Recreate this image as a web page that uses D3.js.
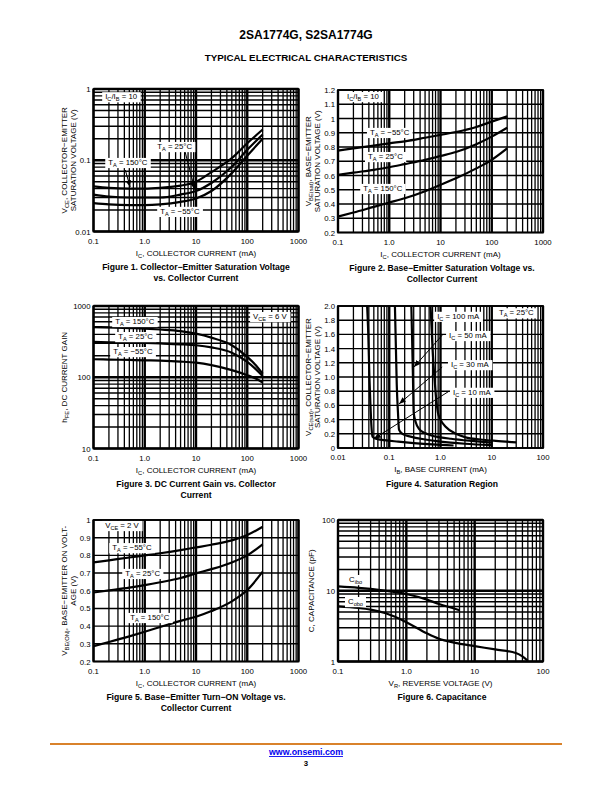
<!DOCTYPE html>
<html>
<head>
<meta charset="utf-8">
<script src="https://cdn.jsdelivr.net/npm/d3@7"></script>
<style>
  body { margin: 0; background: #fff; }
  svg { display: block; font-family: "Liberation Sans", Arial, Helvetica, sans-serif; }
</style>
</head>
<body>
<svg id="page" width="612" height="792"></svg>
<script>
// Figure 1 - Vce(sat) vs Ic
var fig1Current = [0.1, 0.2, 0.5, 1, 2, 5, 10, 20, 50, 100, 200];
var fig1Vce150 = [0.043, 0.041, 0.040, 0.040, 0.041, 0.044, 0.050, 0.068, 0.107, 0.173, 0.27];
var fig1Vce25 = [0.033, 0.031, 0.030, 0.030, 0.030, 0.033, 0.037, 0.048, 0.081, 0.14, 0.23];
var fig1VceM55 = [0.025, 0.024, 0.0235, 0.0235, 0.024, 0.026, 0.029, 0.037, 0.066, 0.116, 0.20];

// Figure 2 - Vbe(sat) vs Ic
var fig2Current = [0.1, 0.2, 0.5, 1, 2, 5, 10, 20, 50, 100, 200];
var fig2VbeM55 = [0.775, 0.79, 0.81, 0.826, 0.84, 0.865, 0.885, 0.905, 0.94, 0.978, 1.015];
var fig2Vbe25 = [0.604, 0.62, 0.64, 0.658, 0.68, 0.71, 0.737, 0.765, 0.82, 0.873, 0.935];
var fig2Vbe150 = [0.312, 0.34, 0.38, 0.41, 0.44, 0.49, 0.534, 0.58, 0.65, 0.71, 0.79];

// Figure 3 - hFE vs Ic
var fig3Current = [0.1, 0.2, 0.5, 1, 2, 5, 10, 20, 50, 100, 150, 200];
var fig3Hfe150 = [507, 500, 490, 481, 468, 445, 409, 360, 281, 193, 145, 112];
var fig3Hfe25 = [313, 310, 306, 303, 298, 290, 281, 262, 221, 164, 128, 104];
var fig3HfeM55 = [179, 177, 175, 173, 171, 166, 160, 148, 126, 107, 95, 84];

// Figure 4 - saturation region, Ib (mA) vs Vce (V)
var fig4Ib10 = [0.037, 0.039, 0.041, 0.043, 0.045, 0.047, 0.055, 0.08, 0.15, 0.3, 0.7, 1.8];
var fig4Vce10 = [2.0, 1.6, 1.0, 0.6, 0.3, 0.16, 0.13, 0.11, 0.09, 0.07, 0.05, 0.035];
var fig4Ib30 = [0.129, 0.135, 0.14, 0.148, 0.155, 0.18, 0.26, 0.5, 1.0, 3, 10];
var fig4Vce30 = [2.0, 1.4, 0.9, 0.5, 0.26, 0.2, 0.16, 0.12, 0.09, 0.06, 0.04];
var fig4Ib50 = [0.27, 0.28, 0.29, 0.30, 0.33, 0.38, 0.5, 0.64, 1.0, 1.6, 4, 10];
var fig4Vce50 = [2.0, 1.5, 1.0, 0.5, 0.36, 0.27, 0.21, 0.18, 0.15, 0.13, 0.1, 0.075];
var fig4Ib100 = [0.64, 0.7, 0.76, 0.89, 1.0, 1.26, 2.0, 3.1, 6, 12, 30];
var fig4Vce100 = [2.0, 1.4, 1.0, 0.5, 0.4, 0.3, 0.2, 0.15, 0.12, 0.1, 0.08];

// Figure 5 - Vbe(on) vs Ic
var fig5Current = [0.1, 0.2, 0.5, 1, 2, 5, 10, 20, 50, 100, 200];
var fig5VbeM55 = [0.76, 0.772, 0.788, 0.80, 0.812, 0.83, 0.845, 0.86, 0.885, 0.915, 0.962];
var fig5Vbe25 = [0.59, 0.602, 0.618, 0.632, 0.648, 0.672, 0.698, 0.722, 0.76, 0.80, 0.862];
var fig5Vbe150 = [0.287, 0.31, 0.342, 0.368, 0.395, 0.43, 0.453, 0.485, 0.54, 0.604, 0.708];

// Figure 6 - capacitance
var fig6CiboV = [0.1, 0.2, 0.3, 0.5, 1, 2, 3, 5, 6];
var fig6Cibo = [11.5, 11.0, 10.6, 10.0, 9.0, 7.5, 6.5, 5.6, 5.3];
var fig6CoboV = [0.1, 0.2, 0.3, 0.5, 1, 2, 3, 5, 10, 20, 40, 50, 60];
var fig6Cobo = [6.0, 5.7, 5.4, 4.8, 3.6, 2.5, 2.1, 1.85, 1.65, 1.48, 1.32, 1.18, 1.02];

// tick labels
var decadeTicks = [0.1, 1, 10, 100, 1000];
var decadeLabels = ['0.1', '1.0', '10', '100', '1000'];
var ibTicks = [0.01, 0.1, 1, 10, 100];
var ibLabels = ['0.01', '0.1', '1.0', '10', '100'];
var vrTicks = [0.1, 1, 10, 100];
var vrLabels = ['0.1', '1.0', '10', '100'];
var fig1YTicks = [0.01, 0.1, 1];
var fig1YLabels = ['0.01', '0.1', '1'];
var fig2YTicks = [0.2, 0.3, 0.4, 0.5, 0.6, 0.7, 0.8, 0.9, 1, 1.1, 1.2];
var fig2YLabels = ['0.2', '0.3', '0.4', '0.5', '0.6', '0.7', '0.8', '0.9', '1', '1.1', '1.2'];
var fig3YTicks = [10, 100, 1000];
var fig3YLabels = ['10', '100', '1000'];
var fig4YTicks = [0, 0.2, 0.4, 0.6, 0.8, 1.0, 1.2, 1.4, 1.6, 1.8, 2.0];
var fig4YLabels = ['0', '0.2', '0.4', '0.6', '0.8', '1.0', '1.2', '1.4', '1.6', '1.8', '2.0'];
var fig5YTicks = [0.2, 0.3, 0.4, 0.5, 0.6, 0.7, 0.8, 0.9, 1];
var fig5YLabels = ['0.2', '0.3', '0.4', '0.5', '0.6', '0.7', '0.8', '0.9', '1'];
var fig6YTicks = [1, 10, 100];
var fig6YLabels = ['1', '10', '100'];

var page = d3.select('#page');

page.append('defs').append('marker')
    .attr('id', 'arr').attr('viewBox', '0 0 10 10')
    .attr('refX', 10).attr('refY', 5)
    .attr('markerWidth', 7).attr('markerHeight', 7)
    .attr('orient', 'auto')
    .append('path').attr('d', 'M0,1 L10,5 L0,9 z').attr('fill', '#000');

// writes "X_{sub}" strings as tspans
function rich(t, str, size) {
    var re = /_\{([^}]*)\}/g, last = 0, m, shift = size * 0.28, down = false;
    function plain(s) {
        if (!s) return;
        var ts = t.append('tspan').text(s);
        if (down) { ts.attr('dy', -shift); down = false; }
    }
    while ((m = re.exec(str))) {
        plain(str.slice(last, m.index));
        t.append('tspan').attr('font-size', size * 0.72).attr('dy', down ? 0 : shift).text(m[1]);
        down = true;
        last = re.lastIndex;
    }
    plain(str.slice(last));
}

function txt(x, y, str, size, opts) {
    opts = opts || {};
    var t = page.append('text').attr('x', x).attr('y', y)
        .attr('font-size', size)
        .attr('text-anchor', opts.anchor || 'middle')
        .attr('font-weight', opts.bold ? 'bold' : null)
        .attr('fill', opts.fill || '#000');
    if (opts.rotate) t.attr('transform', 'rotate(-90,' + x + ',' + y + ')');
    rich(t, str, size);
    return t;
}

function isDecade(v) {
    var l = Math.log10(v);
    return Math.abs(l - Math.round(l)) < 1e-6;
}

function drawChart(c) {
    var g = page.append('g');
    var x = (c.xLog ? d3.scaleLog() : d3.scaleLinear()).domain(c.xDomain).range([c.left, c.right]);
    var y = (c.yLog ? d3.scaleLog() : d3.scaleLinear()).domain(c.yDomain).range([c.bottom, c.top]);

    var xg = c.xLog ? x.ticks() : x.ticks(c.xCount);
    var yg = c.yLog ? y.ticks() : y.ticks(c.yCount);

    g.selectAll('line.vx').data(xg).join('line')
        .attr('x1', function(d){return x(d);}).attr('x2', function(d){return x(d);})
        .attr('y1', c.top).attr('y2', c.bottom)
        .attr('stroke', '#000')
        .attr('stroke-width', function(d){return c.xLog && isDecade(d) ? 2.4 : 1.3;});
    g.selectAll('line.hy').data(yg).join('line')
        .attr('y1', function(d){return y(d);}).attr('y2', function(d){return y(d);})
        .attr('x1', c.left).attr('x2', c.right)
        .attr('stroke', '#000')
        .attr('stroke-width', function(d){return c.yLog && isDecade(d) ? 2.4 : 1.4;});
    g.append('rect').attr('x', c.left).attr('y', c.top)
        .attr('width', c.right - c.left).attr('height', c.bottom - c.top)
        .attr('fill', 'none').attr('stroke', '#000').attr('stroke-width', 1.8);

    c.xTicks.forEach(function(v, i) {
        txt(x(v), c.bottom + 12, c.xTickText[i], 7.8);
    });
    c.yTicks.forEach(function(v, i) {
        txt(c.left - 3, y(v) + 3, c.yTickText[i], 7.8, {anchor: 'end'});
    });

    var line = d3.line()
        .x(function(d){return x(d[0]);})
        .y(function(d){return y(d[1]);})
        .curve(d3.curveMonotoneX);
    c.series.forEach(function(s) {
        g.append('path').attr('d', line(d3.zip(s[0], s[1])))
            .attr('fill', 'none').attr('stroke', '#000')
            .attr('stroke-width', 2.2).attr('stroke-linejoin', 'round');
    });

    (c.labels || []).forEach(function(l) {
        var t = g.append('text').attr('x', x(l[0])).attr('y', y(l[1])).attr('font-size', 7.8);
        rich(t, l[2], 7.8);
        var b = t.node().getBBox();
        g.insert('rect', function(){ return t.node(); })
            .attr('x', b.x - 3).attr('y', b.y)
            .attr('width', b.width + 6).attr('height', b.height)
            .attr('fill', '#fff');
    });

    (c.arrows || []).forEach(function(a) {
        g.append('line')
            .attr('x1', x(a[0])).attr('y1', y(a[1]))
            .attr('x2', x(a[2])).attr('y2', y(a[3]))
            .attr('stroke', '#000').attr('stroke-width', 1)
            .attr('marker-end', 'url(#arr)');
    });

    var cx = (c.left + c.right) / 2, cy = (c.top + c.bottom) / 2;
    c.yTitle.forEach(function(s, i) {
        txt(c.yTitleX[i], cy, s, 8, {rotate: true});
    });
    txt(cx, c.bottom + 24, c.xTitle, 8);
    c.caption.forEach(function(s, i) {
        txt(c.capX, c.bottom + 38.5 + i * 11, s, 8.6, {bold: true});
    });
}

// header
txt(306, 39, '2SA1774G, S2SA1774G', 12, {bold: true});
txt(306, 61, 'TYPICAL ELECTRICAL CHARACTERISTICS', 9.8, {bold: true});

drawChart({
    left: 93.5, right: 298.5, top: 89, bottom: 231.5,
    xLog: true, yLog: true, xDomain: [0.1, 1000], yDomain: [0.01, 1],
    xTicks: decadeTicks, xTickText: decadeLabels,
    yTicks: fig1YTicks, yTickText: fig1YLabels,
    series: [[fig1Current, fig1Vce150], [fig1Current, fig1Vce25], [fig1Current, fig1VceM55]],
    labels: [
        [0.169, 0.72, 'I_{C}/I_{B} = 10'],
        [1.75, 0.144, 'T_{A} = 25°C'],
        [0.194, 0.086, 'T_{A} = 150°C'],
        [2.0, 0.0177, 'T_{A} = −55°C']
    ],
    arrows: [[6.15, 0.13, 9.6, 0.038], [0.417, 0.073, 0.52, 0.042]],
    yTitle: ['V_{CE}, COLLECTOR−EMITTER', 'SATURATION VOLTAGE (V)'], yTitleX: [67, 76],
    xTitle: 'I_{C}, COLLECTOR CURRENT (mA)',
    caption: ['Figure 1. Collector−Emitter Saturation Voltage', 'vs. Collector Current'], capX: 196
});

drawChart({
    left: 338, right: 543, top: 90, bottom: 232.5,
    xLog: true, yLog: false, xDomain: [0.1, 1000], yDomain: [0.2, 1.2], yCount: 10,
    xTicks: decadeTicks, xTickText: decadeLabels,
    yTicks: fig2YTicks, yTickText: fig2YLabels,
    series: [[fig2Current, fig2VbeM55], [fig2Current, fig2Vbe25], [fig2Current, fig2Vbe150]],
    labels: [
        [0.15, 1.137, 'I_{C}/I_{B} = 10'],
        [0.42, 0.885, 'T_{A} = −55°C'],
        [0.385, 0.716, 'T_{A} = 25°C'],
        [0.31, 0.492, 'T_{A} = 150°C']
    ],
    yTitle: ['V_{BE(sat)}, BASE−EMITTER', 'SATURATION VOLTAGE (V)'], yTitleX: [311, 320],
    xTitle: 'I_{C}, COLLECTOR CURRENT (mA)',
    caption: ['Figure 2. Base−Emitter Saturation Voltage vs.', 'Collector Current'], capX: 442
});

drawChart({
    left: 93.5, right: 298.5, top: 306, bottom: 448.5,
    xLog: true, yLog: true, xDomain: [0.1, 1000], yDomain: [10, 1000],
    xTicks: decadeTicks, xTickText: decadeLabels,
    yTicks: fig3YTicks, yTickText: fig3YLabels,
    series: [[fig3Current, fig3Hfe150], [fig3Current, fig3Hfe25], [fig3Current, fig3HfeM55]],
    labels: [
        [0.265, 560, 'T_{A} = 150°C'],
        [0.303, 344, 'T_{A} = 25°C'],
        [0.242, 212, 'T_{A} = −55°C'],
        [130, 657, 'V_{CE} = 6 V']
    ],
    yTitle: ['h_{FE}, DC CURRENT GAIN'], yTitleX: [67],
    xTitle: 'I_{C}, COLLECTOR CURRENT (mA)',
    caption: ['Figure 3. DC Current Gain vs. Collector', 'Current'], capX: 196
});

drawChart({
    left: 338, right: 543, top: 306, bottom: 448,
    xLog: true, yLog: false, xDomain: [0.01, 100], yDomain: [0, 2], yCount: 10,
    xTicks: ibTicks, xTickText: ibLabels,
    yTicks: fig4YTicks, yTickText: fig4YLabels,
    series: [[fig4Ib10, fig4Vce10], [fig4Ib30, fig4Vce30], [fig4Ib50, fig4Vce50], [fig4Ib100, fig4Vce100]],
    labels: [
        [0.86, 1.82, 'I_{C} = 100 mA'],
        [13.8, 1.87, 'T_{A} = 25°C'],
        [1.47, 1.55, 'I_{C} = 50 mA'],
        [1.6, 1.14, 'I_{C} = 30 mA'],
        [1.75, 0.75, 'I_{C} = 10 mA']
    ],
    arrows: [[1.08, 1.59, 0.304, 1.14], [1.08, 1.14, 0.155, 0.62], [1.47, 0.8, 0.05, 0.13]],
    yTitle: ['V_{CE(sat)}, COLLECTOR−EMITTER', 'SATURATION VOLTAGE (V)'], yTitleX: [311, 320],
    xTitle: 'I_{B}, BASE CURRENT (mA)',
    caption: ['Figure 4. Saturation Region'], capX: 442
});

drawChart({
    left: 93.5, right: 298.5, top: 520, bottom: 661.5,
    xLog: true, yLog: false, xDomain: [0.1, 1000], yDomain: [0.2, 1], yCount: 8,
    xTicks: decadeTicks, xTickText: decadeLabels,
    yTicks: fig5YTicks, yTickText: fig5YLabels,
    series: [[fig5Current, fig5VbeM55], [fig5Current, fig5Vbe25], [fig5Current, fig5Vbe150]],
    labels: [
        [0.169, 0.955, 'V_{CE} = 2 V'],
        [0.232, 0.83, 'T_{A} = −55°C'],
        [0.416, 0.684, 'T_{A} = 25°C'],
        [0.52, 0.435, 'T_{A} = 150°C']
    ],
    yTitle: ['V_{BE(ON)}, BASE−EMITTER ON VOLT-', 'AGE (V)'], yTitleX: [67, 76],
    xTitle: 'I_{C}, COLLECTOR CURRENT (mA)',
    caption: ['Figure 5. Base−Emitter Turn−ON Voltage vs.', 'Collector Current'], capX: 196
});

drawChart({
    left: 338, right: 543, top: 520, bottom: 661.5,
    xLog: true, yLog: true, xDomain: [0.1, 100], yDomain: [1, 100],
    xTicks: vrTicks, xTickText: vrLabels,
    yTicks: fig6YTicks, yTickText: fig6YLabels,
    series: [[fig6CiboV, fig6Cibo], [fig6CoboV, fig6Cobo]],
    labels: [
        [0.145, 13.3, 'C_{ibo}'],
        [0.14, 6.5, 'C_{obo}']
    ],
    yTitle: ['C, CAPACITANCE (pF)'], yTitleX: [314],
    xTitle: 'V_{R}, REVERSE VOLTAGE (V)',
    caption: ['Figure 6. Capacitance'], capX: 442
});

// footer
page.append('line').attr('x1', 50).attr('x2', 562).attr('y1', 744).attr('y2', 744)
    .attr('stroke', '#d9822b').attr('stroke-width', 2);
txt(306, 755, 'www.onsemi.com', 8.8, {bold: true, fill: '#0000ee'}).attr('text-decoration', 'underline');
txt(306, 766, '3', 7.8, {bold: true});
</script>
</body>
</html>
